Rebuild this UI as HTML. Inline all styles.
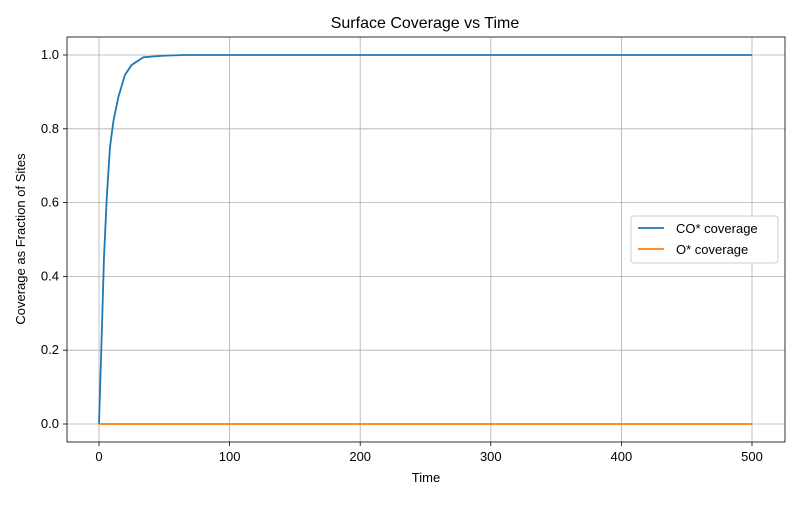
<!DOCTYPE html>
<html><head><meta charset="utf-8"><style>
body{margin:0;background:#fff;font-family:"Liberation Sans","DejaVu Sans",sans-serif}
</style></head><body>
<svg id="chart" width="800" height="500" xmlns="http://www.w3.org/2000/svg">
<rect width="800" height="500" fill="#fff"/>
<text x="425" y="28" font-size="16" text-anchor="middle">Surface Coverage vs Time</text>
<g id="grid"></g>
<g id="ticks" font-size="13"></g>
<g id="series"></g>
<rect x="67" y="37" width="718" height="405" fill="none" stroke="#000" stroke-width="0.8"/>
<text x="426" y="482" font-size="13" text-anchor="middle">Time</text>
<text transform="translate(25,239) rotate(-90)" font-size="13" text-anchor="middle">Coverage as Fraction of Sites</text>
<g>
<rect x="631" y="216" width="147" height="47" fill="#fff" stroke="#ccc" rx="3"/>
<line x1="638" y1="228" x2="664" y2="228" stroke="#1f77b4" stroke-width="1.8"/>
<text x="676" y="233" font-size="13">CO* coverage</text>
<line x1="638" y1="249" x2="664" y2="249" stroke="#ff7f0e" stroke-width="1.8"/>
<text x="676" y="254" font-size="13">O* coverage</text>
</g>
</svg>
<script>
const times = [0,2,3.8,5.9,8.4,11,14.8,19.9,25,34,49,65,100,200,300,400,500];
const coCoverage = [0,0.23,0.45,0.61,0.75,0.82,0.886,0.946,0.973,0.994,0.998,1,1,1,1,1,1];
const oTimes = [0,500];
const oCoverage = [0,0];
const xTicks = [0,100,200,300,400,500];
const yTicks = [0,0.2,0.4,0.6,0.8,1.0];
const X = t => 99 + t*(752-99)/500;
const Y = v => 424 - v*(424-55);
const NS = "http://www.w3.org/2000/svg";
const grid = document.getElementById('grid'), ticks = document.getElementById('ticks'), series = document.getElementById('series');
function mk(tag, attrs, parent){const e=document.createElementNS(NS,tag);for(const k in attrs)e.setAttribute(k,attrs[k]);parent.appendChild(e);return e;}
xTicks.forEach(t=>{
  const g=mk('line',{x1:X(t),x2:X(t),y1:37,y2:442,stroke:'#b0b0b0','stroke-width':0.8},grid);
  
  
  mk('line',{x1:X(t),x2:X(t),y1:442,y2:446,stroke:'#000','stroke-width':0.8},ticks);
  const tx=mk('text',{x:X(t),y:461,'text-anchor':'middle'},ticks);tx.textContent=t;
  
  
});
yTicks.forEach(v=>{
  const g=mk('line',{x1:67,x2:785,y1:Y(v),y2:Y(v),stroke:'#b0b0b0','stroke-width':0.8},grid);
  
  
  mk('line',{x1:63,x2:67,y1:Y(v),y2:Y(v),stroke:'#000','stroke-width':0.8},ticks);
  const tx=mk('text',{x:59,y:Y(v)+4,'text-anchor':'end'},ticks);tx.textContent=v.toFixed(1);
  
  
});
const co=mk('polyline',{points:times.map((t,i)=>X(t)+','+Y(coCoverage[i])).join(' '),fill:'none',stroke:'#1f77b4','stroke-width':1.8},series);


const o=mk('polyline',{points:oTimes.map((t,i)=>X(t)+','+Y(oCoverage[i])).join(' '),fill:'none',stroke:'#ff7f0e','stroke-width':1.8},series);


</script>
</body></html>
